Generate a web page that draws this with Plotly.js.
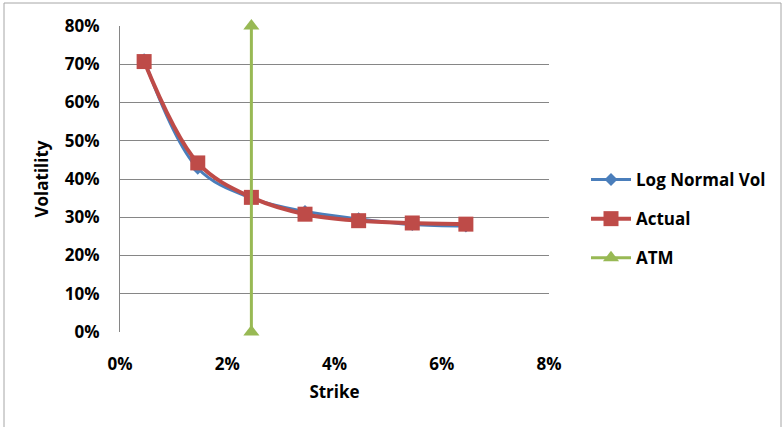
<!DOCTYPE html>
<html>
<head>
<meta charset="utf-8">
<script src="https://cdn.plot.ly/plotly-3.0.1.min.js"></script>
<style>html,body{margin:0;padding:0;background:#fff;}#chart{width:784px;height:427px;}</style>
</head>
<body>
<div id="chart"></div>
<script>
// Data (percent)
var strikes = [0.45, 1.45, 2.45, 3.45, 4.45, 5.45, 6.45];
var logNormalVol = [71.2, 42.8, 35.0, 31.5, 29.6, 28.1, 27.7];
var actualVol = [70.7, 44.2, 35.2, 30.8, 29.1, 28.5, 28.2];
var atmX = [2.45, 2.45];
var atmY = [0, 80];
var xTicks = [0, 2, 4, 6, 8];
var yTicks = [0, 10, 20, 30, 40, 50, 60, 70, 80];

var fontFam = '"Open Sans", Lato, sans-serif';
function f(sz) { return {family: fontFam, size: sz, color: '#000', weight: 'bold'}; }

var traces = [
  {
    x: strikes, y: logNormalVol, name: 'Log Normal Vol', mode: 'lines+markers',
    line: {color: '#4A7EBB', width: 3, shape: 'spline', smoothing: 1},
    marker: {symbol: 'diamond', size: 10, color: '#4A7EBB'},
    legendgroup: 'a', cliponaxis: false
  },
  {
    x: strikes, y: actualVol, name: 'Actual', mode: 'lines+markers',
    line: {color: '#BE4B48', width: 4, shape: 'spline', smoothing: 1},
    marker: {symbol: 'square', size: 15, color: '#BE4B48'},
    legendgroup: 'b', cliponaxis: false
  },
  {
    x: atmX, y: atmY, name: 'ATM', mode: 'lines+markers',
    line: {color: '#98B954', width: 3},
    marker: {symbol: 'triangle-up', size: 14, color: '#98B954'},
    legendgroup: 'c', cliponaxis: false
  }
];

var L = 120, R = 549, T = 26, B = 332, W = 784, H = 427;
function px(p) { return (p - L) / (R - L); }
function py(p) { return (B - p) / (B - T); }

var layout = {
  width: W, height: H,
  margin: {l: L, r: W - R, t: T, b: H - B},
  paper_bgcolor: '#fff', plot_bgcolor: '#fff',
  font: f(17),
  showlegend: true,
  legend: {
    x: px(586), y: py(162), xanchor: 'left', yanchor: 'top',
    font: f(17),
    traceorder: 'grouped', tracegroupgap: 14, itemwidth: 40, bgcolor: 'rgba(0,0,0,0)'
  },
  xaxis: {
    range: [0, 8], tickvals: xTicks, ticktext: xTicks.map(function(v){return v + '%';}),
    showgrid: false, zeroline: false, showline: false, ticks: '',
    ticklabelstandoff: 20,
    tickfont: f(17),
    title: {text: 'Strike', standoff: 12, font: f(17)}
  },
  yaxis: {
    range: [0, 80], tickvals: yTicks, ticktext: yTicks.map(function(v){return v + '%';}),
    showgrid: true, gridcolor: '#868686', gridwidth: 1, zeroline: false,
    showline: true, linecolor: '#868686', linewidth: 1, ticks: '',
    ticklabelstandoff: 16,
    tickfont: f(17),
    title: {text: 'Volatility', standoff: 11, font: f(17)}
  },
  shapes: [
    {type: 'rect', xref: 'paper', yref: 'paper', x0: px(4), x1: px(781), y0: py(440), y1: py(3),
     line: {color: '#A6A6A6', width: 1}, fillcolor: 'rgba(0,0,0,0)', layer: 'below'}
  ]
};

Plotly.newPlot('chart', traces, layout, {displayModeBar: false, staticPlot: true});
</script>
</body>
</html>
